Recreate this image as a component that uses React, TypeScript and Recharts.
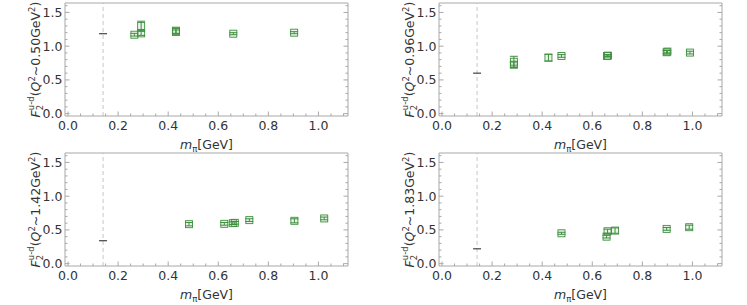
import React from "react";
import {
  ScatterChart,
  Scatter,
  XAxis,
  YAxis,
  ErrorBar,
  ReferenceLine,
  Label,
} from "recharts";

// physical pion mass
const PHYS_M = 0.14;

// Q^2 ~ 0.50 GeV^2
const q050Mass = [0.265, 0.292, 0.292, 0.431, 0.431, 0.66, 0.903];
const q050F2 = [1.17, 1.3, 1.19, 1.21, 1.23, 1.185, 1.2];
const q050Err = [0.02, 0.07, 0.03, 0.03, 0.04, 0.015, 0.015];
const q050Phys = 1.185;

// Q^2 ~ 0.96 GeV^2
const q096Mass = [0.287, 0.287, 0.425, 0.477, 0.659, 0.663, 0.897, 0.9, 0.99];
const q096F2 = [0.77, 0.725, 0.83, 0.855, 0.855, 0.86, 0.91, 0.92, 0.905];
const q096Err = [0.08, 0.04, 0.05, 0.02, 0.015, 0.015, 0.025, 0.02, 0.02];
const q096Phys = 0.6;

// Q^2 ~ 1.42 GeV^2
const q142Mass = [0.483, 0.624, 0.658, 0.666, 0.724, 0.904, 1.023];
const q142F2 = [0.585, 0.59, 0.6, 0.605, 0.645, 0.635, 0.67];
const q142Err = [0.025, 0.02, 0.02, 0.02, 0.02, 0.03, 0.02];
const q142Phys = 0.34;

// Q^2 ~ 1.83 GeV^2
const q183Mass = [0.477, 0.657, 0.661, 0.691, 0.897, 0.987];
const q183F2 = [0.45, 0.4, 0.48, 0.49, 0.515, 0.54];
const q183Err = [0.015, 0.02, 0.03, 0.04, 0.02, 0.03];
const q183Phys = 0.22;

// axis ticks
const xMajor = [0, 0.2, 0.4, 0.6, 0.8, 1.0];
const xTicks = [
  0, 0.05, 0.1, 0.15, 0.2, 0.25, 0.3, 0.35, 0.4, 0.45, 0.5, 0.55, 0.6, 0.65,
  0.7, 0.75, 0.8, 0.85, 0.9, 0.95, 1.0, 1.05, 1.1,
];
const yMajor = [0, 0.5, 1.0, 1.5];
const yTicks = [
  0, 0.1, 0.2, 0.3, 0.4, 0.5, 0.6, 0.7, 0.8, 0.9, 1.0, 1.1, 1.2, 1.3, 1.4,
  1.5, 1.6,
];

const X_DOMAIN: [number, number] = [-0.012, 1.118];
const Y_DOMAIN: [number, number] = [-0.035, 1.64];

const FRAME = "#a8a8a8";
const TEXT = "#333333";
const GREEN = "#3f8f3f";
const FONT = "'DejaVu Sans', Verdana, sans-serif";
const FS = 12.5;

const W = 374;
const H = 156;

const isMajor = (v: number, majors: number[]) =>
  majors.some((m) => Math.abs(m - v) < 1e-6);

const bottomTick = (p: any) => {
  const major = isMajor(p.payload.value, xMajor);
  return (
    <g>
      <line x1={p.x} x2={p.x} y1={p.y} y2={p.y - (major ? 4.5 : 2.5)} stroke={FRAME} />
      {major && (
        <text x={p.x} y={p.y + 13.5} textAnchor="middle" fontSize={FS} fontFamily={FONT} fill={TEXT}>
          {p.payload.value.toFixed(1)}
        </text>
      )}
    </g>
  );
};

const topTick = (p: any) => {
  const major = isMajor(p.payload.value, xMajor);
  return <line x1={p.x} x2={p.x} y1={p.y} y2={p.y + (major ? 4.5 : 2.5)} stroke={FRAME} />;
};

const leftTick = (p: any) => {
  const major = isMajor(p.payload.value, yMajor);
  return (
    <g>
      <line x1={p.x} x2={p.x + (major ? 4.5 : 2.5)} y1={p.y} y2={p.y} stroke={FRAME} />
      {major && (
        <text x={p.x - 2.5} y={p.y + 4.5} textAnchor="end" fontSize={FS} fontFamily={FONT} fill={TEXT}>
          {p.payload.value.toFixed(1)}
        </text>
      )}
    </g>
  );
};

const rightTick = (p: any) => {
  const major = isMajor(p.payload.value, yMajor);
  return <line x1={p.x} x2={p.x - (major ? 4.5 : 2.5)} y1={p.y} y2={p.y} stroke={FRAME} />;
};

const Square = (p: any) => (
  <rect
    x={p.cx - 3.5}
    y={p.cy - 3.5}
    width={7}
    height={7}
    fill="rgba(63,143,63,0.1)"
    stroke={GREEN}
    strokeWidth={0.9}
  />
);

const Dash = (p: any) => (
  <line x1={p.cx - 4} x2={p.cx + 4} y1={p.cy} y2={p.cy} stroke="#444" strokeWidth={1.2} />
);

const XTitle = (props: any) => {
  const vb = props.viewBox || { x: 65, y: 116, width: 283, height: 40 };
  return (
    <text x={vb.x + vb.width / 2} y={vb.y + 33} textAnchor="middle" fontSize={FS} fontFamily={FONT} fill={TEXT}>
      <tspan fontStyle="italic">m</tspan>
      <tspan fontSize={8.5} dy={3}>π</tspan>
      <tspan dy={-3}>[GeV]</tspan>
    </text>
  );
};

const makeYTitle = (q2: string) => (props: any) => {
  const vb = props.viewBox || { x: 0, y: 3, width: 65, height: 113 };
  const cx = vb.x + 39.5;
  const cy = vb.y + vb.height / 2;
  return (
    <text
      x={cx}
      y={cy}
      transform={`rotate(-90, ${cx}, ${cy})`}
      textAnchor="middle"
      fontSize={FS}
      fontFamily={FONT}
      fill={TEXT}
    >
      <tspan fontStyle="italic">F</tspan>
      <tspan fontSize={8.5} dy={3}>2</tspan>
      <tspan fontSize={8.5} dx={-5.4} dy={-9}>u-d</tspan>
      <tspan dy={6}>(</tspan>
      <tspan fontStyle="italic">Q</tspan>
      <tspan fontSize={8.5} dy={-5}>2</tspan>
      <tspan dy={5}>{`~${q2}GeV`}</tspan>
      <tspan fontSize={8.5} dy={-5}>2</tspan>
      <tspan dy={5}>)</tspan>
    </text>
  );
};

interface PanelProps {
  q2: string;
  mass: number[];
  f2: number[];
  err: number[];
  phys: number;
}

function Panel({ q2, mass, f2, err, phys }: PanelProps) {
  const data = mass.map((m, i) => ({ m, f: f2[i], err: err[i] }));
  const physData = [{ m: PHYS_M, f: phys }];
  return (
    <ScatterChart width={W} height={H} margin={{ top: 0, right: 0, bottom: 0, left: 0 }}>
      <XAxis
        xAxisId="b"
        dataKey="m"
        type="number"
        domain={X_DOMAIN}
        allowDataOverflow
        ticks={xTicks}
        interval={0}
        tickSize={0}
        tickMargin={0}
        tickLine={false}
        axisLine={{ stroke: FRAME }}
        tick={bottomTick}
        height={40}
      >
        <Label content={XTitle} />
      </XAxis>
      <XAxis
        xAxisId="t"
        orientation="top"
        type="number"
        domain={X_DOMAIN}
        allowDataOverflow
        ticks={xTicks}
        interval={0}
        tickSize={0}
        tickMargin={0}
        tickLine={false}
        axisLine={{ stroke: FRAME }}
        tick={topTick}
        height={3}
      />
      <YAxis
        yAxisId="l"
        dataKey="f"
        type="number"
        domain={Y_DOMAIN}
        allowDataOverflow
        ticks={yTicks}
        interval={0}
        tickSize={0}
        tickMargin={0}
        tickLine={false}
        axisLine={{ stroke: FRAME }}
        tick={leftTick}
        width={65}
      >
        <Label content={makeYTitle(q2)} />
      </YAxis>
      <YAxis
        yAxisId="r"
        orientation="right"
        type="number"
        domain={Y_DOMAIN}
        allowDataOverflow
        ticks={yTicks}
        interval={0}
        tickSize={0}
        tickMargin={0}
        tickLine={false}
        axisLine={{ stroke: FRAME }}
        tick={rightTick}
        width={26}
      />
      <ReferenceLine xAxisId="b" yAxisId="l" x={PHYS_M} stroke="#c6c6c6" strokeDasharray="4 3" />
      <Scatter xAxisId="b" yAxisId="l" data={data} dataKey="f" shape={Square} isAnimationActive={false}>
        <ErrorBar dataKey="err" direction="y" width={4} stroke={GREEN} strokeWidth={1} />
      </Scatter>
      <Scatter xAxisId="b" yAxisId="l" data={physData} dataKey="f" shape={Dash} isAnimationActive={false} />
    </ScatterChart>
  );
}

export default function App() {
  return (
    <div
      style={{
        position: "absolute",
        left: 0,
        top: 0,
        width: 747,
        height: 305,
        overflow: "hidden",
        background: "#fff",
      }}
    >
      <div style={{ position: "absolute", left: 0, top: 0 }}>
        <Panel q2="0.50" mass={q050Mass} f2={q050F2} err={q050Err} phys={q050Phys} />
      </div>
      <div style={{ position: "absolute", left: 374, top: 0 }}>
        <Panel q2="0.96" mass={q096Mass} f2={q096F2} err={q096Err} phys={q096Phys} />
      </div>
      <div style={{ position: "absolute", left: 0, top: 150 }}>
        <Panel q2="1.42" mass={q142Mass} f2={q142F2} err={q142Err} phys={q142Phys} />
      </div>
      <div style={{ position: "absolute", left: 374, top: 150 }}>
        <Panel q2="1.83" mass={q183Mass} f2={q183F2} err={q183Err} phys={q183Phys} />
      </div>
    </div>
  );
}
